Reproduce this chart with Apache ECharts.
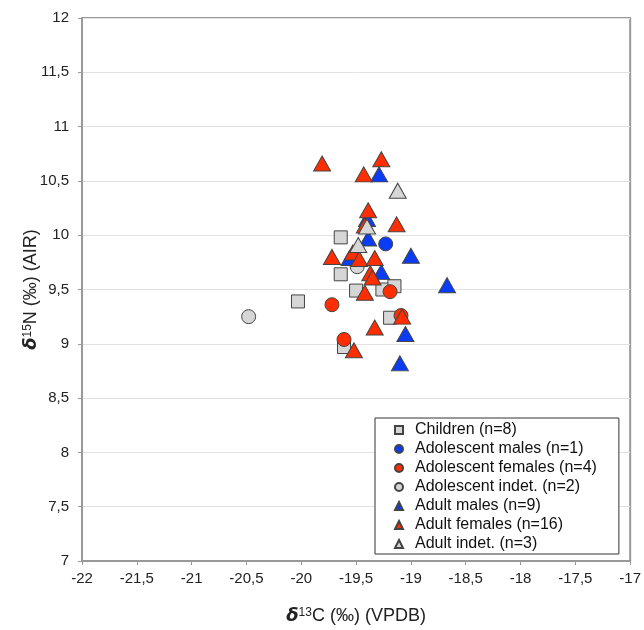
<!DOCTYPE html>
<html>
<head>
<meta charset="utf-8">
<script src="https://cdn.jsdelivr.net/npm/echarts@6/dist/echarts.min.js"></script>
<style>
  html, body { margin: 0; padding: 0; background: #fff; }
  #chart { width: 644px; height: 630px; }
</style>
</head>
<body>
<div id="chart"></div>
<script>
// δ13C / δ15N values, [x, y]
const children = [[-20.03, 9.39], [-19.64, 9.98], [-19.64, 9.64], [-19.50, 9.49], [-19.26, 9.50], [-19.15, 9.53], [-19.19, 9.24], [-19.61, 8.97]];
const adolMales = [[-19.23, 9.92]];
const adolFemales = [[-19.72, 9.36], [-19.19, 9.48], [-19.09, 9.26], [-19.61, 9.04]];
const adolIndet = [[-20.48, 9.25], [-19.49, 9.71]];
const adultMales = [[-19.29, 10.56], [-19.40, 10.15], [-19.39, 9.97], [-19.56, 9.79], [-19.27, 9.66], [-19.00, 9.81], [-18.67, 9.54], [-19.05, 9.09], [-19.10, 8.82]];
const adultFemales = [[-19.81, 10.66], [-19.27, 10.70], [-19.43, 10.56], [-19.39, 10.23], [-19.42, 10.09], [-19.13, 10.10], [-19.72, 9.80], [-19.53, 9.84], [-19.47, 9.78], [-19.33, 9.79], [-19.37, 9.65], [-19.35, 9.61], [-19.42, 9.47], [-19.33, 9.15], [-19.52, 8.94], [-19.08, 9.25]];
const adultIndet = [[-19.40, 10.08], [-19.48, 9.91], [-19.12, 10.41]];

const seriesNames = ['Children (n=8)', 'Adolescent males (n=1)', 'Adolescent females (n=4)', 'Adolescent indet. (n=2)', 'Adult males (n=9)', 'Adult females (n=16)', 'Adult indet. (n=3)'];

const BLUE = '#0a3cf5';
const RED = '#ff2e00';
const GREY = '#d6d6d6';
const FONT = 'Liberation Sans, Arial, sans-serif';

const fmt = v => String(v).replace('.', ',');

const mk = (name, data, symbol, size, color) => ({
  name: name,
  type: 'scatter',
  data: data,
  symbol: symbol,
  symbolSize: size,
  itemStyle: { color: color, borderColor: '#444', borderWidth: 1, opacity: 1 },
  emphasis: { disabled: true }
});

const nameRich = {
  d: { fontFamily: 'DejaVu Sans', fontSize: 18, fontWeight: 'bold', fontStyle: 'italic', color: '#222' },
  s: { fontFamily: FONT, fontSize: 12, color: '#222', verticalAlign: 'top', padding: [0, 0, 6, 0] },
  n: { fontFamily: FONT, fontSize: 18, color: '#222' }
};

const chart = echarts.init(document.getElementById('chart'));
chart.setOption({
  animation: false,
  grid: {
    left: 82, right: 13, top: 18, bottom: 65,
    show: true, borderColor: '#999', borderWidth: 2
  },
  legend: {
    orient: 'vertical',
    left: 375, top: 418,
    padding: [4, 22, 2, 19],
    itemWidth: 8, itemHeight: 8, itemGap: 3,
    borderColor: '#333', borderWidth: 1,
    backgroundColor: '#fff',
    textStyle: { fontFamily: FONT, fontSize: 16, color: '#111', padding: [0, 0, 0, 7] },
    data: [
      { name: seriesNames[0], icon: 'rect' },
      { name: seriesNames[1], icon: 'circle' },
      { name: seriesNames[2], icon: 'circle' },
      { name: seriesNames[3], icon: 'circle' },
      { name: seriesNames[4], icon: 'triangle' },
      { name: seriesNames[5], icon: 'triangle' },
      { name: seriesNames[6], icon: 'triangle' }
    ]
  },
  xAxis: {
    type: 'value', min: -22, max: -17, interval: 0.5,
    axisLine: { show: true, lineStyle: { color: '#999', width: 2 } },
    axisTick: { show: true, length: 4, lineStyle: { color: '#999' } },
    splitLine: { show: false },
    axisLabel: { formatter: fmt, fontFamily: FONT, fontSize: 15, color: '#222', margin: 10 },
    name: '{d|δ}{s|13}{n|C (‰) (VPDB)}',
    nameLocation: 'middle', nameGap: 46,
    nameMoveOverlap: false,
    nameTextStyle: { rich: nameRich }
  },
  yAxis: {
    type: 'value', min: 7, max: 12, interval: 0.5,
    axisLine: { show: true, lineStyle: { color: '#999', width: 2 } },
    axisTick: { show: true, length: 4, lineStyle: { color: '#999' } },
    splitLine: { show: true, lineStyle: { color: '#e2e2e2', width: 1 } },
    axisLabel: { formatter: fmt, fontFamily: FONT, fontSize: 15, color: '#222', margin: 13 },
    name: '{d|δ}{s|15}{n|N (‰) (AIR)}',
    nameLocation: 'middle', nameGap: 42,
    nameMoveOverlap: false,
    nameTextStyle: { rich: nameRich }
  },
  series: [
    mk(seriesNames[0], children, 'rect', 13, GREY),
    mk(seriesNames[1], adolMales, 'circle', 14, BLUE),
    mk(seriesNames[2], adolFemales, 'circle', 14, RED),
    mk(seriesNames[3], adolIndet, 'circle', 14, GREY),
    mk(seriesNames[4], adultMales, 'triangle', [17, 15], BLUE),
    mk(seriesNames[5], adultFemales, 'triangle', [17, 15], RED),
    mk(seriesNames[6], adultIndet, 'triangle', [17, 15], GREY)
  ]
});
</script>
</body>
</html>
